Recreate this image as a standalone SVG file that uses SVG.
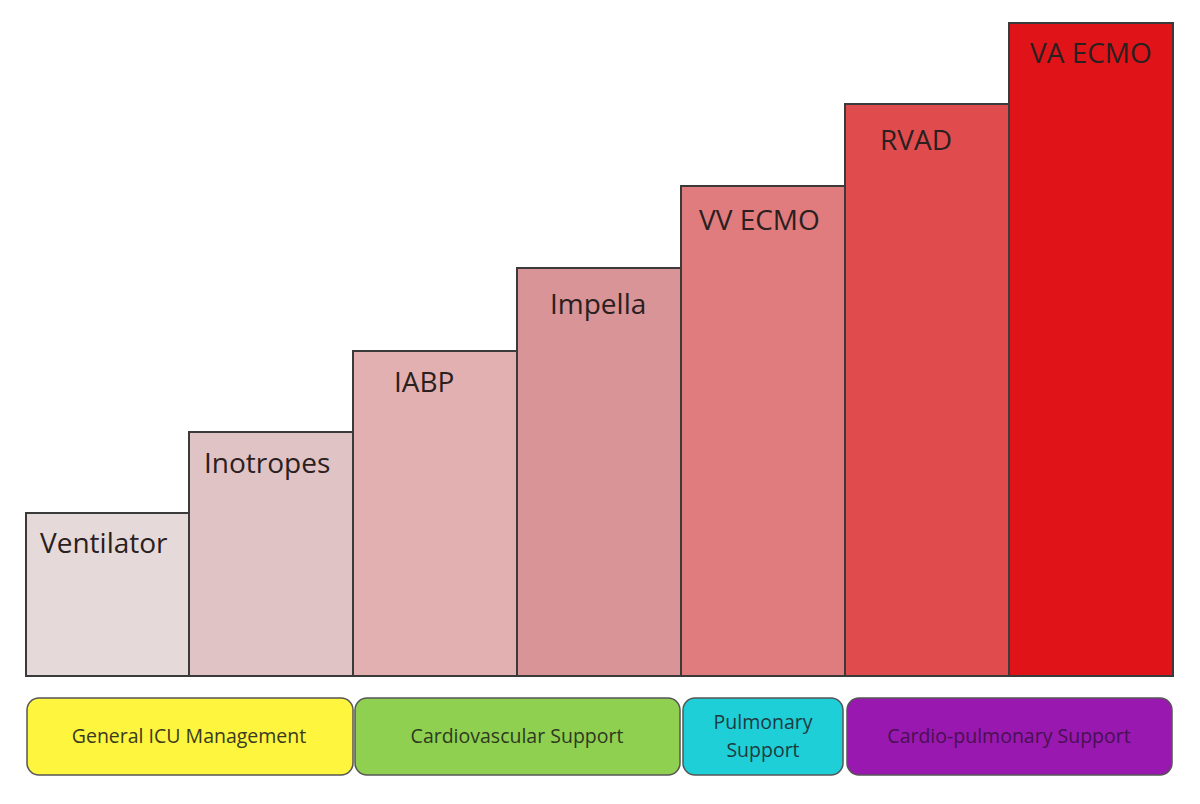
<svg xmlns="http://www.w3.org/2000/svg" width="1200" height="804" viewBox="0 0 1200 804">
<style>
.bar{stroke:#3a3a3a;stroke-width:2}
.bl{font-family:"Open Sans","Noto Sans",sans-serif;font-size:28px;fill:#2a2020}
.cat{stroke:#555;stroke-width:1.5}
.cl{font-family:"Open Sans","Noto Sans",sans-serif;font-size:19.5px;font-weight:500;text-anchor:middle}
</style>
<rect width="1200" height="804" fill="#fff"/>
<g id="ventilator"><rect class="bar" x="26" y="513" width="163" height="163" fill="#e6d9d9"/><text class="bl" x="40" y="553">Ventilator</text></g>
<g id="inotropes"><rect class="bar" x="189" y="432" width="164" height="244" fill="#e0c3c4"/><text class="bl" x="204" y="473">Inotropes</text></g>
<g id="iabp"><rect class="bar" x="353" y="351" width="164" height="325" fill="#e3b0b1"/><text class="bl" x="394" y="392">IABP</text></g>
<g id="impella"><rect class="bar" x="517" y="268" width="164" height="408" fill="#d89496"/><text class="bl" x="550" y="314">Impella</text></g>
<g id="vvecmo"><rect class="bar" x="681" y="186" width="164" height="490" fill="#e07b7e"/><text class="bl" x="699" y="230">VV ECMO</text></g>
<g id="rvad"><rect class="bar" x="845" y="104" width="164" height="572" fill="#e04c4e"/><text class="bl" x="880" y="150">RVAD</text></g>
<g id="vaecmo"><rect class="bar" x="1009" y="23" width="164" height="653" fill="#e01418"/><text class="bl" x="1030" y="63">VA ECMO</text></g>
<g id="general"><rect class="cat" x="27" y="698" width="326" height="77" rx="12" fill="#fdf53e"/><text class="cl" x="189" y="743" fill="#3a3a20">General ICU Management</text></g>
<g id="cardiovascular"><rect class="cat" x="355" y="698" width="325" height="77" rx="12" fill="#90d050"/><text class="cl" x="517" y="743" fill="#2c3a20">Cardiovascular Support</text></g>
<g id="pulmonary"><rect class="cat" x="683" y="698" width="160" height="77" rx="12" fill="#1ecfd8"/><text class="cl" x="763" y="729" fill="#1f3a40">Pulmonary</text><text class="cl" x="763" y="757" fill="#1f3a40">Support</text></g>
<g id="cardiopulmonary"><rect class="cat" x="847" y="698" width="325" height="77" rx="12" fill="#9818b0"/><text class="cl" x="1009" y="743" fill="#4a1050">Cardio-pulmonary Support</text></g>
<g id="connectors"></g>
</svg>
